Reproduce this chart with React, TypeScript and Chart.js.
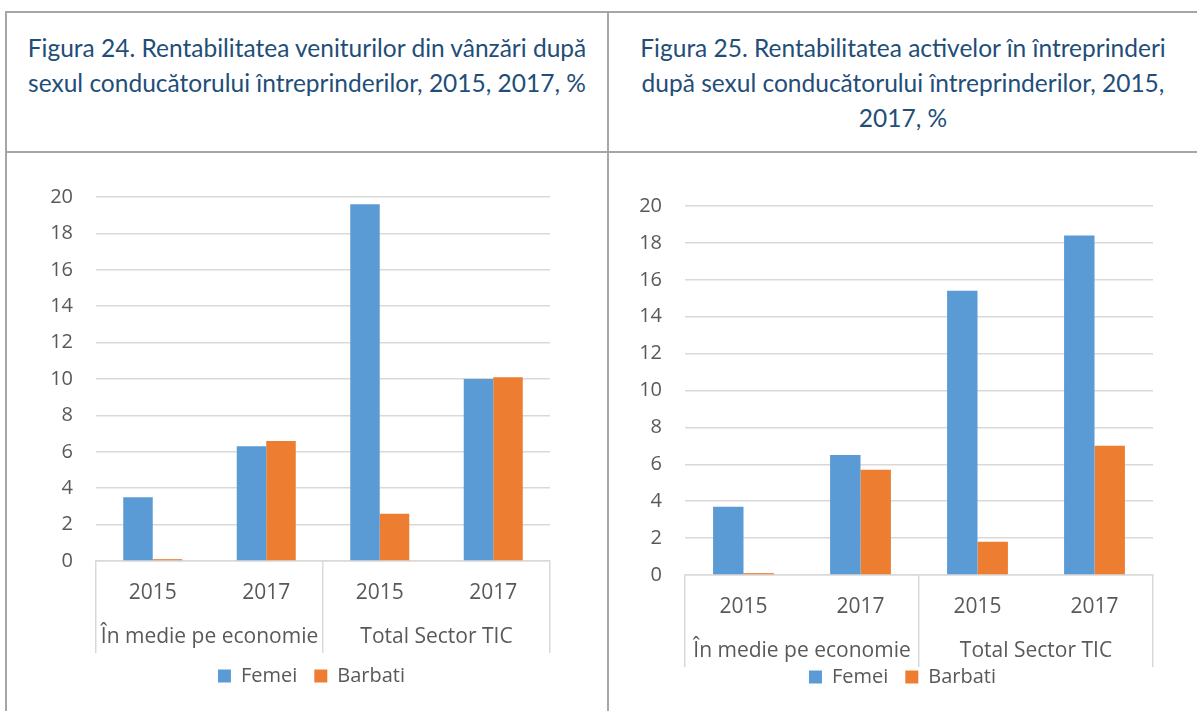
import React, { useEffect, useRef } from "react";
import { Chart, registerables } from "chart.js";

Chart.register(...registerables);

// ---- data ----
const yearLabels = ["2015", "2017", "2015", "2017"];
const groupLabels = ["În medie pe economie", "Total Sector TIC"];
const seriesNames = ["Femei", "Barbati"];

const fig24Femei = [3.5, 6.3, 19.6, 10.0];
const fig24Barbati = [0.1, 6.6, 2.6, 10.1];

const fig25Femei = [3.7, 6.5, 15.4, 18.4];
const fig25Barbati = [0.1, 5.7, 1.8, 7.0];

const yMin = 0;
const yMax = 20;
const yStep = 2;

const title24 = [
  "Figura 24. Rentabilitatea veniturilor din vânzări după",
  "sexul conducătorului întreprinderilor, 2015, 2017, %",
];
const title25 = [
  "Figura 25. Rentabilitatea activelor în întreprinderi",
  "după sexul conducătorului întreprinderilor, 2015,",
  "2017, %",
];

// ---- styles ----
const BLUE = "#5B9BD5";
const ORANGE = "#ED7D31";
const GRID = "#d9d9d9";
const TEXT = "#595959";
const BORDER = "#a6a6a6";
const TITLE_COLOR = "#1F4E79";
const FONT = "'Open Sans', sans-serif";

type ChartProps = {
  femei: number[];
  barbati: number[];
  left: number;
  top: number;
  width: number;
  height: number;
  padL: number;
  padR: number;
  padT: number;
  padB: number;
  yW: number;
  y2W: number;
  x2H: number;
};

function BarChart(p: ChartProps) {
  const ref = useRef<HTMLCanvasElement | null>(null);
  useEffect(() => {
    if (!ref.current) return;
    const chart = new Chart(ref.current, {
      type: "bar",
      data: {
        labels: yearLabels,
        datasets: [
          {
            label: seriesNames[0],
            data: p.femei,
            backgroundColor: BLUE,
            borderWidth: 0,
            categoryPercentage: 0.52,
            barPercentage: 1.0,
          },
          {
            label: seriesNames[1],
            data: p.barbati,
            backgroundColor: ORANGE,
            borderWidth: 0,
            categoryPercentage: 0.52,
            barPercentage: 1.0,
          },
        ],
      },
      options: {
        responsive: false,
        maintainAspectRatio: false,
        animation: false,
        devicePixelRatio: 1,
        layout: {
          padding: { left: p.padL, right: p.padR, top: p.padT, bottom: p.padB },
        },
        plugins: {
          tooltip: { enabled: false },
          title: { display: false },
          legend: {
            display: true,
            position: "bottom",
            labels: {
              boxWidth: 13,
              boxHeight: 13,
              padding: 17,
              color: TEXT,
              font: { family: FONT, size: 20 },
            },
          },
        },
        scales: {
          y: {
            min: yMin,
            max: yMax,
            ticks: {
              stepSize: yStep,
              padding: 23,
              color: TEXT,
              font: { family: FONT, size: 20 },
            },
            grid: { color: GRID, lineWidth: 1.5, drawTicks: false },
            border: { display: false },
            afterFit: (s: any) => {
              s.width = p.yW;
            },
          },
          y2: {
            type: "linear",
            position: "right",
            display: true,
            ticks: { display: false },
            grid: { display: false, drawTicks: false },
            border: { display: false },
            afterFit: (s: any) => {
              s.width = p.y2W;
            },
          },
          x: {
            type: "category",
            position: "bottom",
            weight: 0,
            offset: true,
            ticks: {
              padding: -72.6,
              color: TEXT,
              maxRotation: 0,
              autoSkip: false,
              font: { family: FONT, size: 21 },
            },
            grid: {
              display: true,
              offset: true,
              drawOnChartArea: false,
              drawTicks: true,
              tickLength: 92,
              lineWidth: 1.5,
              color: (c: any) =>
                c.index === 1 || c.index === 3 ? "rgba(0,0,0,0)" : GRID,
            },
            border: { display: true, color: GRID, width: 1.5 },
            afterFit: (s: any) => {
              s.height = 53;
            },
          },
          x2: {
            type: "category",
            labels: groupLabels,
            position: "bottom",
            weight: 1,
            offset: true,
            ticks: {
              mirror: true,
              padding: -35.6,
              color: TEXT,
              maxRotation: 0,
              autoSkip: false,
              font: { family: FONT, size: 21 },
            },
            grid: { display: false, drawTicks: false },
            border: { display: false },
            afterFit: (s: any) => {
              s.height = p.x2H;
            },
          },
        },
      } as any,
    });
    return () => chart.destroy();
  }, []);
  return (
    <canvas
      ref={ref}
      width={p.width}
      height={p.height}
      style={{
        position: "absolute",
        left: p.left,
        top: p.top,
        width: p.width,
        height: p.height,
      }}
    />
  );
}

function Title({ lines, left, width }: { lines: string[]; left: number; width: number }) {
  return (
    <div
      style={{
        position: "absolute",
        left,
        top: 13,
        width,
        height: 138,
        paddingTop: 16.5,
        boxSizing: "border-box",
        textAlign: "center",
        color: TITLE_COLOR,
        fontFamily: "Lato, sans-serif",
        fontSize: 24.5,
        lineHeight: "35px",
        whiteSpace: "nowrap",
      }}
    >
      {lines.map((l, i) => (
        <div key={i}>{l}</div>
      ))}
    </div>
  );
}

export default function App() {
  useEffect(() => {
    document.body.style.margin = "0";
  }, []);
  const line = (s: React.CSSProperties) => (
    <div style={{ position: "absolute", background: BORDER, ...s }} />
  );
  return (
    <div
      style={{
        position: "absolute",
        left: 0,
        top: 0,
        width: 1197,
        height: 711,
        overflow: "hidden",
        background: "#ffffff",
      }}
    >
      {line({ left: 5, top: 11, width: 1192, height: 2 })}
      {line({ left: 5, top: 151, width: 1192, height: 2 })}
      {line({ left: 5, top: 11, width: 2, height: 700 })}
      {line({ left: 607, top: 11, width: 2, height: 700 })}
      <Title lines={title24} left={7} width={600} />
      <Title lines={title25} left={609} width={588} />
      <BarChart
        femei={fig24Femei}
        barbati={fig24Barbati}
        left={7}
        top={154}
        width={600}
        height={557}
        padL={42}
        padR={33}
        padT={43}
        padB={15}
        yW={47}
        y2W={24}
        x2H={35}
      />
      <BarChart
        femei={fig25Femei}
        barbati={fig25Barbati}
        left={610}
        top={154}
        width={587}
        height={557}
        padL={28}
        padR={30}
        padT={52}
        padB={14}
        yW={47}
        y2W={14}
        x2H={22}
      />
    </div>
  );
}
